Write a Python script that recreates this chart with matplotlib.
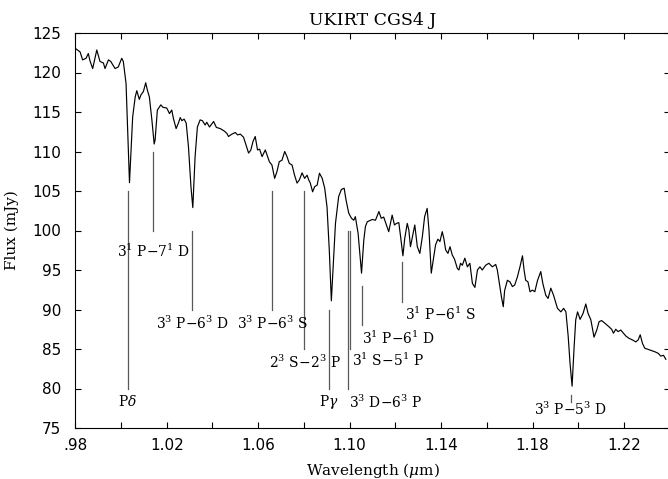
import numpy as np
import matplotlib
matplotlib.use("Agg")
import matplotlib.pyplot as plt
from matplotlib.ticker import FixedLocator, MultipleLocator, FuncFormatter

plt.rcParams['font.family'] = ['DejaVu Serif']
plt.rcParams['mathtext.fontset'] = 'dejavuserif'

# J-band spectrum (wavelength in micron, flux in mJy)
wave = [0.9800, 0.9821, 0.9832, 0.9847, 0.9857, 0.9864, 0.9876, 0.9894, 0.9908, 0.9923,
        0.9930, 0.9945, 0.9955, 0.9974, 0.9988, 1.0003, 1.0010, 1.0022, 1.0037, 1.0051,
        1.0062, 1.0069, 1.0080, 1.0087, 1.0098, 1.0108, 1.0115, 1.0124, 1.0135, 1.0145,
        1.0149, 1.0159, 1.0174, 1.0183, 1.0200, 1.0212, 1.0222, 1.0229, 1.0241, 1.0251,
        1.0259, 1.0266, 1.0276, 1.0285, 1.0295, 1.0306, 1.0314, 1.0324, 1.0334, 1.0346,
        1.0356, 1.0368, 1.0375, 1.0387, 1.0405, 1.0417, 1.0434, 1.0451, 1.0463, 1.0470,
        1.0485, 1.0500, 1.0510, 1.0522, 1.0536, 1.0558, 1.0568, 1.0577, 1.0587, 1.0597,
        1.0606, 1.0617, 1.0631, 1.0649, 1.0660, 1.0672, 1.0682, 1.0692, 1.0704, 1.0716,
        1.0726, 1.0736, 1.0748, 1.0759, 1.0770, 1.0780, 1.0792, 1.0803, 1.0814, 1.0821,
        1.0828, 1.0838, 1.0847, 1.0858, 1.0868, 1.0880, 1.0891, 1.0901, 1.0911, 1.0920,
        1.0938, 1.0952, 1.0964, 1.0976, 1.0984, 1.0996, 1.1008, 1.1018, 1.1025, 1.1037,
        1.1052, 1.1062, 1.1069, 1.1077, 1.1099, 1.1113, 1.1128, 1.1138, 1.1149, 1.1161,
        1.1171, 1.1186, 1.1196, 1.1205, 1.1215, 1.1223, 1.1233, 1.1241, 1.1252, 1.1259,
        1.1266, 1.1276, 1.1285, 1.1296, 1.1307, 1.1318, 1.1328, 1.1339, 1.1347, 1.1357,
        1.1366, 1.1376, 1.1386, 1.1395, 1.1405, 1.1412, 1.1420, 1.1430, 1.1439, 1.1449,
        1.1459, 1.1471, 1.1478, 1.1485, 1.1493, 1.1504, 1.1515, 1.1526, 1.1537, 1.1548,
        1.1559, 1.1570, 1.1580, 1.1595, 1.1609, 1.1624, 1.1639, 1.1646, 1.1653, 1.1664,
        1.1672, 1.1678, 1.1690, 1.1701, 1.1712, 1.1722, 1.1734, 1.1745, 1.1756, 1.1763,
        1.1770, 1.1780, 1.1789, 1.1800, 1.1810, 1.1822, 1.1836, 1.1845, 1.1858, 1.1868,
        1.1880, 1.1892, 1.1909, 1.1924, 1.1936, 1.1946, 1.1956, 1.1964, 1.1973, 1.1982,
        1.1989, 1.1997, 1.2008, 1.2021, 1.2033, 1.2043, 1.2055, 1.2069, 1.2081, 1.2091,
        1.2102, 1.2113, 1.2125, 1.2135, 1.2146, 1.2154, 1.2164, 1.2174, 1.2186, 1.2198,
        1.2208, 1.2222, 1.2237, 1.2252, 1.2262, 1.2271, 1.2281, 1.2291, 1.2306, 1.2321,
        1.2335, 1.2350, 1.2361, 1.2373, 1.2383]
flux = [123.06, 122.6, 121.6, 121.8, 122.4, 121.5, 120.5, 122.85, 121.4, 121.2,
        120.5, 121.6, 121.4, 120.5, 120.7, 121.8, 121.4, 118.6, 106.05, 114.4,
        116.9, 117.7, 116.6, 117.15, 117.6, 118.7, 117.8, 116.9, 114.0, 110.95,
        111.45, 115.25, 115.9, 115.6, 115.5, 114.8, 115.25, 114.2, 112.9, 113.6,
        114.3, 113.9, 114.1, 113.6, 110.6, 105.5, 102.9, 109.35, 113.1, 114.0,
        113.9, 113.35, 113.7, 113.1, 113.8, 113.05, 112.9, 112.6, 112.3, 111.9,
        112.2, 112.4, 112.1, 112.2, 111.8, 109.8, 110.2, 111.25, 111.9, 110.2,
        110.3, 109.35, 110.2, 108.7, 108.3, 106.6, 107.45, 108.7, 108.9, 110.0,
        109.35, 108.5, 108.3, 107.0, 106.0, 106.4, 107.3, 106.6, 107.0, 106.4,
        106.0, 104.9, 105.55, 105.75, 107.25, 106.6, 105.35, 103.0, 97.5, 91.1,
        100.9, 104.3, 105.2, 105.35, 103.9, 102.2, 101.55, 101.3, 101.75, 99.65,
        94.6, 98.8, 100.5, 101.1, 101.4, 101.3, 102.4, 101.55, 101.7, 100.7,
        99.85, 101.95, 100.7, 100.9, 101.0, 99.2, 96.8, 99.0, 100.9, 100.05,
        97.95, 99.4, 100.7, 97.95, 97.1, 99.2, 101.75, 102.8, 100.05, 94.6,
        96.3, 98.2, 98.9, 98.6, 99.85, 99.0, 97.55, 97.1, 97.95, 96.9,
        96.35, 95.2, 95.0, 95.85, 95.6, 96.5, 95.4, 95.85, 93.3, 92.8,
        95.0, 95.4, 95.0, 95.6, 95.85, 95.4, 95.7, 95.0, 93.7, 91.6,
        90.35, 92.4, 93.7, 93.5, 92.9, 93.1, 94.15, 95.4, 96.8, 95.0,
        93.7, 93.5, 92.25, 92.45, 92.25, 93.7, 94.8, 93.3, 91.8, 91.4,
        92.7, 91.8, 90.15, 89.7, 90.15, 89.7, 86.6, 83.2, 80.3, 85.3,
        88.7, 89.7, 88.75, 89.5, 90.7, 89.5, 88.7, 86.5, 87.4, 88.45,
        88.6, 88.35, 88.05, 87.8, 87.5, 87.0, 87.5, 87.2, 87.4, 87.0,
        86.65, 86.35, 86.15, 85.9, 86.15, 86.8, 85.7, 85.1, 84.95, 84.8,
        84.65, 84.45, 84.1, 84.2, 83.7]

# line identifications: marker position, marker extent, label placement
line_wave = [1.0032, 1.0142, 1.0310, 1.0662, 1.0800, 1.0911, 1.0992, 1.1001, 1.1052, 1.1231, 1.1970]
line_top = [105, 110, 100, 105, 105, 90, 100, 100, 93, 96, 79.2]
line_bottom = [80, 100, 90, 90, 85, 80, 80, 85, 88, 91, 78.3]
line_names = [r"P$\delta$", r"3$^1$ P$-$7$^1$ D", r"3$^3$ P$-$6$^3$ D", r"3$^3$ P$-$6$^3$ S",
              r"2$^3$ S$-$2$^3$ P", r"P$\gamma$", r"3$^3$ D$-$6$^3$ P", r"3$^1$ S$-$5$^1$ P",
              r"3$^1$ P$-$6$^1$ D", r"3$^1$ P$-$6$^1$ S", r"3$^3$ P$-$5$^3$ D"]
label_x = [1.0030, 1.0142, 1.0311, 1.0663, 1.0804, 1.0911, 1.0999, 1.1011, 1.1052, 1.1240, 1.1968]
label_y = [78.3, 97.3, 88.3, 88.3, 83.3, 78.3, 78.2, 83.5, 86.4, 89.4, 77.3]
label_ha = ['center', 'center', 'center', 'center', 'center', 'center', 'left', 'left', 'left', 'left', 'center']

# labelled wavelength ticks and the unlabelled ones in between
xticks_major = [0.98, 1.02, 1.06, 1.10, 1.14, 1.18, 1.22]
xticks_minor = [1.00, 1.04, 1.08, 1.12, 1.16, 1.20, 1.24]

fig = plt.figure(figsize=(6.68, 4.79), dpi=100)
ax = fig.add_axes([75.3 / 668, 1 - 428 / 479, (669.7 - 75.3) / 668, (428 - 33) / 479])

ax.plot(wave, flux, color='black', lw=0.85)

for xw, yt, yb in zip(line_wave, line_top, line_bottom):
    ax.plot([xw, xw], [yb, yt], color='0.35', lw=0.9)

for name, xl, yl, ha in zip(line_names, label_x, label_y, label_ha):
    ax.text(xl, yl, name, ha=ha, va='center', fontsize=10)

ax.set_xlim(0.98, 1.24)
ax.set_ylim(75, 125)
ax.xaxis.set_major_locator(FixedLocator(xticks_major))
ax.xaxis.set_minor_locator(FixedLocator(xticks_minor))
ax.yaxis.set_major_locator(MultipleLocator(5))


def wave_fmt(v, pos):
    s = "%.2f" % v
    return s[1:] if s.startswith("0") else s


ax.xaxis.set_major_formatter(FuncFormatter(wave_fmt))
ax.tick_params(which='both', direction='in', top=True, right=True, length=4.5, width=0.8)
for lab in ax.get_xticklabels() + ax.get_yticklabels():
    lab.set_fontfamily('DejaVu Sans')
    lab.set_fontsize(11)
ax.tick_params(axis='x', pad=7)
ax.tick_params(axis='y', pad=10)

ax.set_title("UKIRT CGS4 J", fontsize=12.5, pad=6)
ax.set_xlabel(r"Wavelength ($\mu$m)", fontsize=11, labelpad=6)
ax.set_ylabel("Flux (mJy)", fontsize=11, labelpad=10)

fig.savefig("out.png", dpi=100)
